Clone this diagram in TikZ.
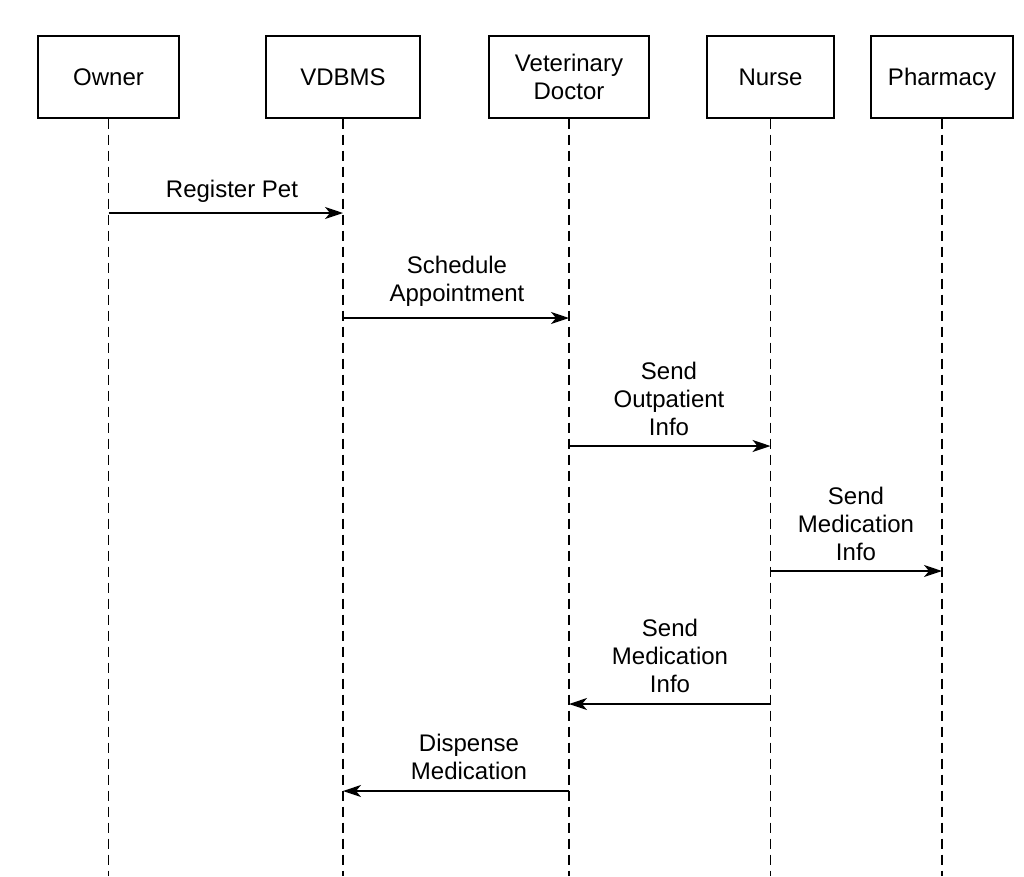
\documentclass[tikz,border=0pt]{standalone}
\usepackage{fontspec}
\setmainfont{Liberation Sans}
\usetikzlibrary{arrows.meta}
\begin{document}
\begin{tikzpicture}[x=1pt,y=-1pt,
  actor/.style={draw, line width=1.3pt, minimum height=82pt, inner sep=0pt, align=center, font=\fontsize{24}{28}\selectfont},
  life/.style={dash pattern=on 10pt off 6pt, line width=1.2pt},
  msg/.style={-{Stealth[length=18pt,width=12pt,inset=5pt]}, line width=1.4pt},
  lbl/.style={align=center, font=\fontsize{24}{28}\selectfont, inner sep=0pt}]
\useasboundingbox (0,0) rectangle (1024,876);
% actors
\node[actor, minimum width=141pt] (owner) at (108.5,77) {Owner};
\node[actor, minimum width=154pt] (vdbms) at (343,77) {VDBMS};
\node[actor, minimum width=160pt] (doctor) at (569,77) {Veterinary\\Doctor};
\node[actor, minimum width=127pt] (nurse) at (770.5,77) {Nurse};
\node[actor, minimum width=142pt, text depth=0pt] (pharmacy) at (942,77) {Pharmacy};
% lifeline ends
\coordinate (ownerE) at (108.5,876);
\coordinate (vdbmsE) at (343,876);
\coordinate (doctorE) at (569,876);
\coordinate (nurseE) at (770.5,876);
\coordinate (pharmacyE) at (942,876);
\draw[life] (owner) -- (ownerE);
\draw[life] (vdbms) -- (vdbmsE);
\draw[life] (doctor) -- (doctorE);
\draw[life] (nurse) -- (nurseE);
\draw[life] (pharmacy) -- (pharmacyE);
% message points
\coordinate (m1a) at (owner |- 0,213);
\coordinate (m1b) at (vdbms |- 0,213);
\coordinate (m2a) at (vdbms |- 0,318);
\coordinate (m2b) at (doctor |- 0,318);
\coordinate (m3a) at (doctor |- 0,446);
\coordinate (m3b) at (nurse |- 0,446);
\coordinate (m4a) at (nurse |- 0,571);
\coordinate (m4b) at (pharmacy |- 0,571);
\coordinate (m5a) at (nurse |- 0,704);
\coordinate (m5b) at (doctor |- 0,704);
\coordinate (m6a) at (doctor |- 0,791);
\coordinate (m6b) at (vdbms |- 0,791);
\draw[msg] (m1a) -- (m1b);
\draw[msg] (m2a) -- (m2b);
\draw[msg] (m3a) -- (m3b);
\draw[msg] (m4a) -- (m4b);
\draw[msg] (m5a) -- (m5b);
\draw[msg] (m6a) -- (m6b);
% labels
\node[lbl] (l1) at (232,191) {Register Pet};
\node[lbl] (l2) at (457,281) {Schedule\\Appointment};
\node[lbl] (l3) at (669,399) {Send\\Outpatient\\Info};
\node[lbl] (l4) at (856,524) {Send\\Medication\\Info};
\node[lbl] (l5) at (670,656) {Send\\Medication\\Info};
\node[lbl] (l6) at (469,757) {Dispense\\Medication};
\end{tikzpicture}
\end{document}
